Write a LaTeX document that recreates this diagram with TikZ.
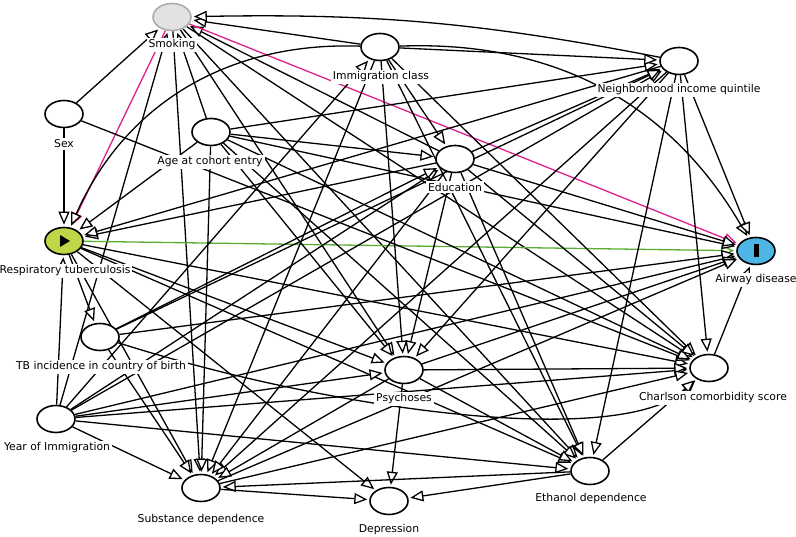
\documentclass[tikz,border=0pt]{standalone}
\usepackage{fontspec}
\setmainfont{DejaVu Sans}
\usetikzlibrary{arrows.meta,shapes.geometric}
\pgfdeclarelayer{bg}
\pgfsetlayers{bg,main}
\definecolor{biaspink}{RGB}{222,32,140}
\definecolor{causgreen}{RGB}{90,172,52}
\definecolor{expfill}{RGB}{192,214,70}
\definecolor{outfill}{RGB}{78,182,230}
\definecolor{latfill}{RGB}{226,226,226}
\definecolor{latdraw}{RGB}{172,172,172}
\begin{document}
\begin{tikzpicture}[x=1pt,y=-1pt,
  var/.style={ellipse, draw, line width=1.6pt, minimum width=38pt, minimum height=27pt, inner sep=0pt, fill=white},
  lab/.style={fill=white, inner sep=2pt, font=\fontsize{10.8}{12}\selectfont},
  edge/.style={line width=1.3pt, -{Triangle[length=13pt,width=11pt,fill=white]}, shorten >=2pt},
  bias/.style={edge, draw=biaspink},
  causal/.style={edge, draw=causgreen}]
\useasboundingbox (0,0) rectangle (796,537);
% variables
\node[var, fill=latfill, draw=latdraw] (S) at (172,17) {};
\node[var] (IC) at (380,47) {};
\node[var] (NI) at (679,61) {};
\node[var] (SX) at (64,114) {};
\node[var] (AG) at (211,132) {};
\node[var] (ED) at (455,159) {};
\node[var, fill=expfill] (TB) at (64,241) {};
\node[var, fill=outfill] (AW) at (756,251) {};
\node[var] (TI) at (100,337) {};
\node[var] (PS) at (404,370) {};
\node[var] (CH) at (709,368) {};
\node[var] (YI) at (56,419) {};
\node[var] (SD) at (201,488) {};
\node[var] (DP) at (389,501) {};
\node[var] (ET) at (590,471) {};
\fill ([shift={(-4,-6)}]TB.center) -- ++(0,12) -- ++(10,-6) -- cycle;
\fill ([shift={(-2.5,-6.5)}]AW.center) rectangle ++(5,13);
% labels
\node[lab] (S-l) at (172,45) {Smoking};
\node[lab] (IC-l) at (381,77) {Immigration class};
\node[lab] (NI-l) at (679,90) {Neighborhood income quintile};
\node[lab] (SX-l) at (64,144) {Sex};
\node[lab] (AG-l) at (210,162) {Age at cohort entry};
\node[lab] (ED-l) at (455,187) {Education};
\node[lab] (TB-l) at (65,271) {Respiratory tuberculosis};
\node[lab] (AW-l) at (756,280) {Airway disease};
\node[lab] (TI-l) at (101,367) {TB incidence in country of birth};
\node[lab] (PS-l) at (404,399) {Psychoses};
\node[lab] (CH-l) at (713,398) {Charlson comorbidity score};
\node[lab] (YI-l) at (57,448) {Year of Immigration};
\node[lab] (SD-l) at (201,520) {Substance dependence};
\node[lab] (DP-l) at (389,530) {Depression};
\node[lab] (ET-l) at (591,499) {Ethanol dependence};
\begin{pgfonlayer}{bg}
% smoking
\draw[edge] (SX) -- (S);
\draw[edge] (AG) -- (S);
\draw[edge] (YI) -- (S);
\draw[edge] (IC) -- (S);
\draw[edge] (ED) -- (S);
\draw[edge] (NI) to[bend right=6] (S);
\draw[bias] (S) -- (TB);
\draw[bias] (S) -- (AW);
\draw[edge] (S) -- (SD);
\draw[edge] (S) -- (ET);
\draw[edge] (S) -- (CH);
\draw[edge] (S) -- (PS);
% exposure
\draw[causal] (TB) -- (AW);
\draw[edge] (SX) -- (TB);
\draw[edge] (IC) to[bend right=34] (TB);
\draw[edge] (AG) -- (TB);
\draw[edge] (ED) -- (TB);
\draw[edge] (NI) -- (TB);
\draw[edge] (YI) -- (TB);
\draw[edge] (TB) -- (TI);
\draw[edge] (TB) -- (PS);
\draw[edge] (TB) -- (CH);
\draw[edge] (TB) -- (ET);
\draw[edge] (TB) -- (SD);
\draw[edge] (TB) -- (DP);
% sex, age
\draw[edge] (SX) -- (CH);
\draw[edge] (AG) -- (ED);
\draw[edge] (AG) -- (NI);
\draw[edge] (AG) -- (AW);
\draw[edge] (AG) -- (CH);
\draw[edge] (AG) -- (ET);
\draw[edge] (AG) -- (PS);
\draw[edge] (AG) -- (SD);
% immigration class
\draw[edge] (IC) -- (NI);
\draw[edge] (IC) to[bend left=31] (AW);
\draw[edge] (IC) -- (ED);
\draw[edge] (IC) -- (PS);
\draw[edge] (IC) -- (SD);
\draw[edge] (IC) -- (ET);
\draw[edge] (IC) -- (CH);
% neighbourhood
\draw[edge] (NI) -- (AW);
\draw[edge] (NI) -- (CH);
\draw[edge] (NI) -- (ET);
\draw[edge] (NI) -- (SD);
\draw[edge] (NI) -- (PS);
% education
\draw[edge] (ED) -- (NI);
\draw[edge] (ED) -- (AW);
\draw[edge] (ED) -- (CH);
\draw[edge] (ED) -- (ET);
\draw[edge] (ED) -- (SD);
\draw[edge] (ED) -- (PS);
% year of immigration
\draw[edge] (YI) -- (IC);
\draw[edge] (YI) -- (NI);
\draw[edge] (YI) -- (ED);
\draw[edge] (YI) -- (AW);
\draw[edge] (YI) -- (PS);
\draw[edge] (YI) -- (CH);
\draw[edge] (YI) -- (ET);
\draw[edge] (YI) -- (SD);
% TB incidence
\draw[edge] (TI) -- (AW);
\draw[edge] (TI) .. controls (330,410) and (620,450) .. (CH);
\draw[edge] (TI) -- (SD);
\draw[edge] (TI) -- (NI);
\draw[edge] (TI) -- (ED);
% psychoses
\draw[edge] (PS) -- (AW);
\draw[edge] (PS) -- (CH);
\draw[edge] (PS) -- (ET);
\draw[edge] (PS) -- (SD);
\draw[edge] (PS) -- (DP);
% others
\draw[edge] (CH) -- (AW);
\draw[edge] (ET) -- (CH);
\draw[edge] (ET) -- (DP);
\draw[edge] (ET) -- (SD);
\draw[edge] (SD) -- (DP);
\draw[edge] (SD) -- (CH);
\draw[edge] (SD) -- (AW);
\end{pgfonlayer}
\end{tikzpicture}
\end{document}
